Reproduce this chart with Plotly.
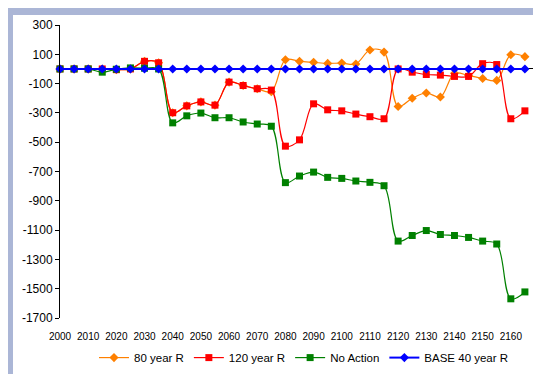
import plotly.graph_objects as go

years = [2000, 2005, 2010, 2015, 2020, 2025, 2030, 2035, 2040, 2045, 2050, 2055,
         2060, 2065, 2070, 2075, 2080, 2085, 2090, 2095, 2100, 2105, 2110, 2115,
         2120, 2125, 2130, 2135, 2140, 2145, 2150, 2155, 2160, 2165]

r80 = [0, 0, 0, 0, -5, 0, 52, 42, -299, -252, -225, -247,
       -90, -113, -135, -155, 63, 52, 45, 38, 40, 34, 129, 115,
       -256, -200, -164, -191, -30, -45, -65, -78, 97, 84]

r120 = [0, 0, 0, 0, -5, 0, 52, 42, -299, -252, -225, -247,
        -90, -113, -135, -144, -527, -484, -238, -279, -286, -308, -326, -340,
        0, -22, -38, -42, -51, -51, 36, 30, -340, -286]

no_action = [0, 0, 0, -22, -2, 7, 5, 0, -368, -320, -301, -333,
             -333, -362, -376, -391, -776, -731, -704, -740, -747, -765, -774, -797,
             -1175, -1137, -1103, -1130, -1137, -1150, -1175, -1195, -1569, -1522]

base40 = [0, 0, 0, 0, 0, 0, 0, 0, 0, 0, 0, 0,
          0, 0, 0, 0, 0, 0, 0, 0, 0, 0, 0, 0,
          0, 0, 0, 0, 0, 0, 0, 0, 0, 0]

x_ticks = [2000, 2010, 2020, 2030, 2040, 2050, 2060, 2070, 2080, 2090, 2100,
           2110, 2120, 2130, 2140, 2150, 2160]
y_ticks = [300, 100, -100, -300, -500, -700, -900, -1100, -1300, -1500, -1700]

FONT = "Liberation Sans, Arial, sans-serif"
BORDER = "#ABB6D6"

fig = go.Figure()

series = [
    ("80 year R", r80, "#FF8000", "diamond", 7, 1.2),
    ("120 year R", r120, "#FF0000", "square", 7, 1.2),
    ("No Action", no_action, "#008000", "square", 7, 1.2),
    ("BASE 40 year R", base40, "#0000FF", "diamond", 7, 2),
]
for name, vals, col, sym, ms, lw in series:
    fig.add_trace(go.Scatter(
        x=years, y=vals, name=name, mode="lines+markers",
        line=dict(color=col, width=lw, shape="spline", smoothing=1.0),
        marker=dict(symbol=sym, size=ms, color=col, line=dict(width=0)),
        cliponaxis=False,
    ))

L, R, T, B = 52, 10, 15, 63
W = 541 - L - R
H = 374 - T - B

def px_x(p):
    return (p - L) / W

def px_y(p):
    return (374 - B - p) / H

fig.add_shape(type="rect", xref="paper", yref="paper",
              x0=px_x(5), x1=px_x(535), y0=px_y(369), y1=px_y(5),
              fillcolor="white", line=dict(width=0), layer="below")

fig.update_layout(
    width=541, height=374,
    margin=dict(l=L, r=R, t=T, b=B),
    paper_bgcolor=BORDER,
    plot_bgcolor="rgba(0,0,0,0)",
    font=dict(family=FONT, size=11, color="black"),
    showlegend=True,
    legend=dict(orientation="h", x=px_x(296), xanchor="center", y=px_y(351),
                yanchor="middle", bgcolor="rgba(0,0,0,0)",
                font=dict(family=FONT, size=11.5), itemwidth=30,
                tracegroupgap=0),
    xaxis=dict(range=[2000, 2170], tickvals=x_ticks,
               ticktext=[str(v) for v in x_ticks],
               showgrid=False, zeroline=False, showline=False,
               ticks="outside", ticklen=9, tickcolor="rgba(0,0,0,0)",
               tickfont=dict(size=10)),
    yaxis=dict(range=[-1700, 300], tickvals=y_ticks,
               ticktext=[str(v).replace("\u2212", "-") for v in y_ticks],
               showgrid=False, zeroline=True, zerolinecolor="black",
               zerolinewidth=1, showline=True, linecolor="black",
               linewidth=1, ticks="outside", ticklen=4, tickcolor="black",
               tickfont=dict(size=12)),
)

fig.write_html("out.html")
